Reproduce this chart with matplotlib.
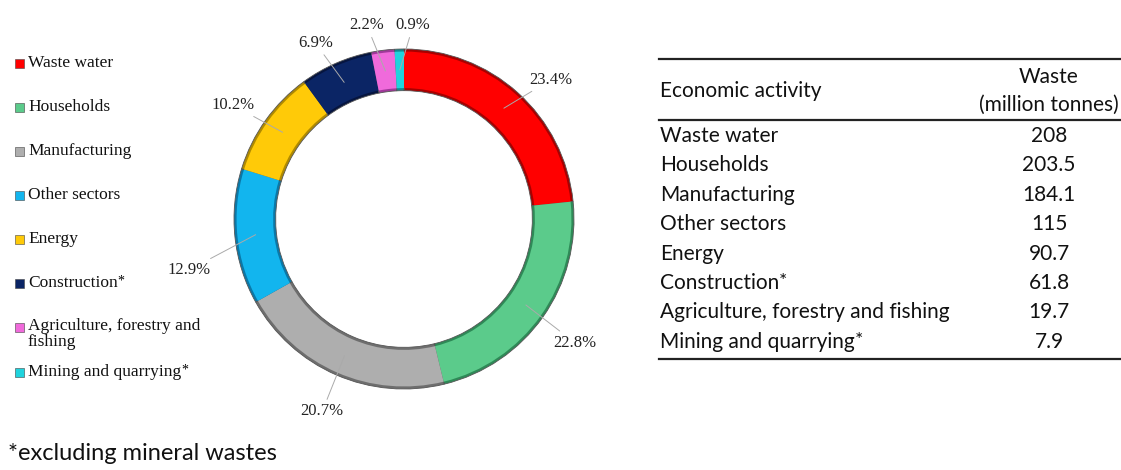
import matplotlib
matplotlib.use('Agg')
import matplotlib.pyplot as plt
import numpy as np
from matplotlib.lines import Line2D
from matplotlib.patches import Rectangle

sectors = ['Waste water', 'Households', 'Manufacturing', 'Other sectors', 'Energy',
           'Construction', 'Agriculture, forestry and\nfishing', 'Mining and quarrying']
table_names = ['Waste water', 'Households', 'Manufacturing', 'Other sectors', 'Energy',
               'Construction', 'Agriculture, forestry and fishing', 'Mining and quarrying']
starred = [False, False, False, False, False, True, False, True]
waste = [208, 203.5, 184.1, 115, 90.7, 61.8, 19.7, 7.9]

colors = ['#FF0000', '#5BCB8B', '#AEAEAE', '#12B5EE', '#FFCA08', '#0B2565', '#F06ADB', '#1FD3DD']
dark = ['#A80000', '#2E8A57', '#6E6E6E', '#0A78A8', '#B08A00', '#061540', '#A0389A', '#108A90']

# label placement: (radius, angle nudge in degrees) per slice
label_pos = [(1.19, -4.5), (1.24, -0.7), (1.23, 0.5), (1.30, 7.3),
             (1.21, 1.9), (1.16, 3.1), (1.16, 3.7), (1.14, -4.3)]

W, H = 1121, 470
fig = plt.figure(figsize=(W / 100, H / 100), dpi=100)

# donut, 1 data unit = 170 px, centred at (404, 219) px
cx, cy, R, lim = 404, 219, 170, 1.35
half = lim * R
ax = fig.add_axes([(cx - half) / W, (H - cy - half) / H, 2 * half / W, 2 * half / H])

ring = 0.245
wedges, _ = ax.pie(waste, colors=dark, startangle=90, counterclock=False, radius=1,
                   wedgeprops=dict(width=ring, edgecolor='#555555', linewidth=0.6))
ax.pie(waste, colors=colors, startangle=90, counterclock=False, radius=0.985,
       wedgeprops=dict(width=ring - 0.03, edgecolor='none'))
# pie() resets the limits, so fix them afterwards
ax.set_xlim(-lim, lim)
ax.set_ylim(-lim, lim)
ax.set_aspect('equal')
ax.axis('off')

total = sum(waste)
for w, v, (r, dth) in zip(wedges, waste, label_pos):
    mid = np.deg2rad((w.theta1 + w.theta2) / 2)
    ang = mid + np.deg2rad(dth)
    rr = 1 - ring / 2
    ax.annotate(f'{100 * v / total:.1f}%', xy=(rr * np.cos(mid), rr * np.sin(mid)),
                xytext=(r * np.cos(ang), r * np.sin(ang)),
                ha='center', va='center', fontsize=12, family='Liberation Serif',
                color='#222222', annotation_clip=False,
                arrowprops=dict(arrowstyle='-', color='#AAAAAA', lw=0.7,
                                shrinkA=1, shrinkB=0))

# legend on the left
ly = [63, 107, 151, 195, 239, 283, 327, 372]
for name, c, star, y in zip(sectors, colors, starred, ly):
    fig.patches.append(Rectangle((15 / W, (H - y - 4.5) / H), 9 / W, 9 / H,
                                 transform=fig.transFigure, facecolor=c,
                                 edgecolor='#444444', linewidth=0.4))
    multi = '\n' in name
    t = fig.text(28 / W, (H - y + (9 if multi else 0)) / H, name,
                 family='Liberation Serif', fontsize=12.5, ha='left',
                 va='top' if multi else 'center', color='#111111', linespacing=1.0)
    if star:
        ax.annotate('*', xy=(1, 1), xycoords=t, ha='left', va='top', fontsize=10,
                    family='Liberation Serif', annotation_clip=False)

# table on the right
tx, vx = 660, 1049
tfont = dict(family='Lato', fontsize=15, color='#111111')


def hline(y, lw):
    fig.add_artist(Line2D([659 / W, 1], [(H - y) / H] * 2, color='#222222', lw=lw,
                          transform=fig.transFigure))


hline(59, 1.6)
hline(120, 1.6)
hline(359, 1.6)
fig.text(tx / W, (H - 91) / H, 'Economic activity', ha='left', va='center', **tfont)
fig.text(vx / W, (H - 77) / H, 'Waste', ha='center', va='center', **tfont)
fig.text(vx / W, (H - 105) / H, '(million tonnes)', ha='center', va='center', **tfont)

for i, (name, v, star) in enumerate(zip(table_names, waste, starred)):
    y = 136 + 29.4 * i
    t = fig.text(tx / W, (H - y) / H, name, ha='left', va='center', **tfont)
    if star:
        ax.annotate('*', xy=(1, 1), xycoords=t, ha='left', va='top',
                    annotation_clip=False, **dict(tfont, fontsize=14))
    fig.text(vx / W, (H - y) / H, f'{v:g}', ha='center', va='center', **tfont)

fig.text(8 / W, (H - 453) / H, '*excluding mineral wastes', ha='left', va='center',
         family='Lato', fontsize=17, color='#111111')

fig.savefig('out.png', dpi=100, facecolor='white')
